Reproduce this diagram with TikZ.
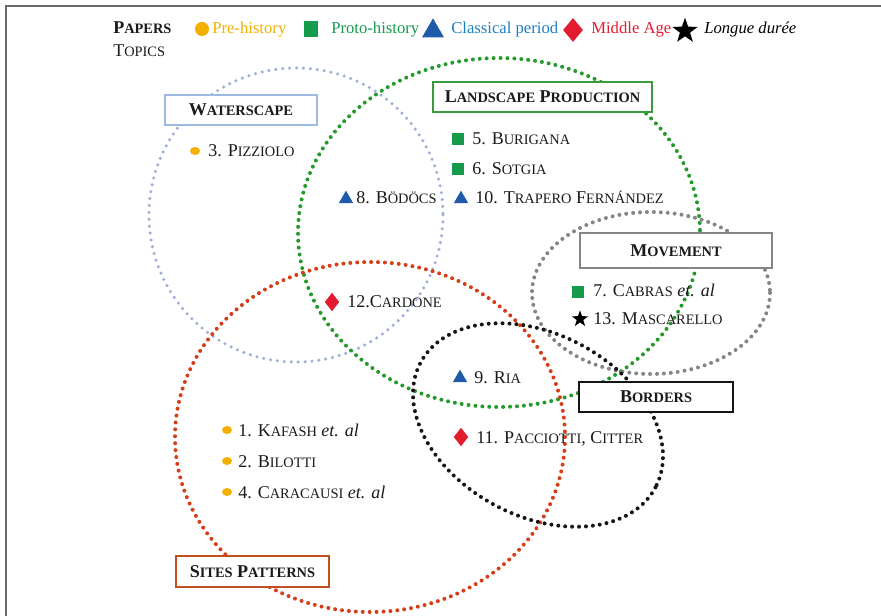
\documentclass[tikz,border=0pt]{standalone}
\usepackage{fontspec}
\setmainfont{Liberation Serif}
\usetikzlibrary{shapes.geometric}

\definecolor{framegray}{HTML}{6A6A6A}
\definecolor{ringblue}{HTML}{9FB0D6}
\definecolor{ringgreen}{HTML}{249A2A}
\definecolor{ringgray}{HTML}{858585}
\definecolor{ringblack}{HTML}{151515}
\definecolor{ringred}{HTML}{D63E18}
\definecolor{boxblue}{HTML}{9CBAE2}
\definecolor{boxgreen}{HTML}{3A9A3E}
\definecolor{boxgray}{HTML}{858585}
\definecolor{boxred}{HTML}{C24E1E}
\definecolor{preh}{HTML}{F4B000}
\definecolor{proto}{HTML}{169A4C}
\definecolor{classtri}{HTML}{1F5BAA}
\definecolor{classtxt}{HTML}{1A80C2}
\definecolor{midage}{HTML}{E31B2F}
\definecolor{inktext}{HTML}{1A1A1A}

% lowered capitals for the small-caps look
\newcommand\lsc[1]{{\fontsize{10.8}{12}\selectfont #1}}

\begin{document}
\begin{tikzpicture}[x=0.75pt,y=-0.75pt,
  ring/.style={line width=3pt, line cap=round, dash pattern=on 0pt off 5.2pt},
  topic/.style={draw=#1, fill=white, line width=1.6pt, inner sep=0pt,
    font=\fontsize{13.5}{15}\selectfont\bfseries, text=inktext},
  paper/.style={anchor=base west, inner sep=0pt, font=\fontsize{13.5}{15}\selectfont, text=inktext},
  legtext/.style={anchor=base west, inner sep=0pt, font=\fontsize{12.5}{15}\selectfont},
  dotmark/.style={ellipse, fill=preh, inner sep=0pt, minimum width=7.5pt, minimum height=6pt},
  sqmark/.style={rectangle, fill=proto, inner sep=0pt, minimum size=9pt},
  trimark/.style={regular polygon, regular polygon sides=3, fill=classtri, inner sep=0pt, minimum size=12.5pt},
  diamark/.style={diamond, fill=midage, inner sep=0pt, minimum width=11pt, minimum height=14pt},
  starmark/.style={star, star points=5, star point ratio=2.5, fill=black, inner sep=0pt, minimum size=13pt}
]
\useasboundingbox (0,0) rectangle (881,616);

% frame
\draw[framegray, line width=1.5pt] (6,616) -- (6,6) -- (881,6);

% topic rings
\draw[ring, ringblue, line width=2.6pt] (296,215) circle [radius=147];
\draw[ring, ringgreen] (499,232.5) ellipse [x radius=201, y radius=174.5];
\draw[ring, ringgray] (651,293) ellipse [x radius=119, y radius=81];
\draw[ring, ringred] (370,437) ellipse [x radius=195, y radius=175];
\draw[ring, ringblack, rotate around={-28:(538,425)}] (538,425) ellipse [x radius=133, y radius=91];

% topic boxes
\node[topic=boxblue, minimum width=114pt, minimum height=22.5pt] (water) at (241,110) {W\lsc{ATERSCAPE}};
\node[topic=boxgreen, minimum width=164pt, minimum height=22.5pt] (land) at (542.5,97) {L\lsc{ANDSCAPE} P\lsc{RODUCTION}};
\node[topic=boxgray, minimum width=144pt, minimum height=26pt] (move) at (676,250.5) {M\lsc{OVEMENT}};
\node[topic=ringblack, minimum width=115.5pt, minimum height=22.5pt] (bord) at (656,397) {B\lsc{ORDERS}};
\node[topic=boxred, minimum width=115pt, minimum height=23pt] (sites) at (252.5,571.5) {S\lsc{ITES} P\lsc{ATTERNS}};

% legend
\node[paper, font=\fontsize{13.5}{15}\selectfont\bfseries] (papers) at (113,34) {P\lsc{APERS}};
\node[paper] (topics) at (113,57) {T\lsc{OPICS}};
\node[dotmark, minimum width=10.5pt, minimum height=10.5pt] (lg1) at (202,29) {};
\node[legtext, text=preh] (lt1) at (212,34) {Pre-history};
\node[sqmark, minimum width=10.5pt, minimum height=11.5pt] (lg2) at (311,29) {};
\node[legtext, text=proto] (lt2) at (331,34) {Proto-history};
\node[trimark, minimum size=19pt] (lg3) at (433,31) {};
\node[legtext, text=classtxt] (lt3) at (451,34) {Classical period};
\node[diamark, minimum width=15pt, minimum height=18pt] (lg4) at (573,30) {};
\node[legtext, text=midage] (lt4) at (591,34) {Middle Age};
\node[starmark, minimum size=20pt] (lg5) at (685,31) {};
\node[legtext, text=black, font=\fontsize{12.5}{15}\selectfont\itshape] (lt5) at (704,34) {Longue durée};

% papers
\node[dotmark] (m3) at (195,151) {};
\node[paper] (p3) at (208,157) {3. P\lsc{IZZIOLO}};

\node[sqmark] (m5) at (458,139) {};
\node[paper] (p5) at (472,145) {5. B\lsc{URIGANA}};
\node[sqmark] (m6) at (458,169) {};
\node[paper] (p6) at (472,175) {6. S\lsc{OTGIA}};
\node[trimark] (m10) at (461,199) {};
\node[paper] (p10) at (475,204) {10. T\lsc{RAPERO} F\lsc{ERNÁNDEZ}};
\node[trimark] (m8) at (346,199) {};
\node[paper] (p8) at (356,204) {8. B\lsc{ÖDÖCS}};

\node[sqmark] (m7) at (578,292) {};
\node[paper] (p7) at (593,297) {7. C\lsc{ABRAS} \textit{et. al}};
\node[starmark] (m13) at (580,319) {};
\node[paper] (p13) at (593,325) {13. M\lsc{ASCARELLO}};

\node[diamark] (m12) at (332,302) {};
\node[paper] (p12) at (347,308) {12.C\lsc{ARDONE}};

\node[trimark] (m9) at (460,378) {};
\node[paper] (p9) at (474,383) {9. R\lsc{IA}};
\node[diamark] (m11) at (461,437) {};
\node[paper] (p11) at (476,443) {11. P\lsc{ACCIOTTI}, C\lsc{ITTER}};

\node[dotmark] (m1) at (227,430) {};
\node[paper] (p1) at (238,436) {1. K\lsc{AFASH} \textit{et. al}};
\node[dotmark] (m2) at (227,461) {};
\node[paper] (p2) at (238,467) {2. B\lsc{ILOTTI}};
\node[dotmark] (m4) at (227,492) {};
\node[paper] (p4) at (238,498) {4. C\lsc{ARACAUSI} \textit{et. al}};
\end{tikzpicture}
\end{document}
